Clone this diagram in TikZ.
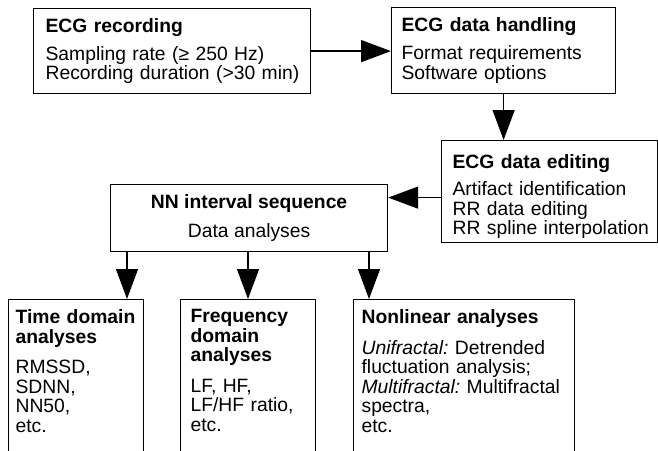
\documentclass[tikz,border=0pt]{standalone}
\usepackage{fontspec}
\setmainfont{Liberation Sans}
\usetikzlibrary{arrows.meta}
\hyphenpenalty=10000
\exhyphenpenalty=10000

\begin{document}
\begin{tikzpicture}[x=1pt,y=-1pt,
  box/.style={draw,line width=1.2pt,anchor=north west,align=left,inner ysep=0pt,
    font=\fontsize{19.3}{19.5}\selectfont},
  arr/.style={line width=1.3pt,-{Triangle[length=30pt,width=22pt]}}]
\useasboundingbox (0,0) rectangle (658,450);
\node[box,text width=253pt,inner xsep=12pt,minimum height=85pt] (rec) at (33,8)
  {\textbf{ECG recording}\\[8.5pt]Sampling rate (≥ 250 Hz)\\Recording~duration~(>30~min)};
\node[box,text width=204pt,inner xsep=10pt,minimum height=86pt] (hand) at (391,7)
  {\textbf{ECG data handling}\\[8.5pt]Format requirements\\Software options};
\node[box,text width=194pt,inner xsep=11pt,minimum height=102pt] (edit) at (441,140)
  {\rule{0pt}{24pt}\textbf{ECG data editing}\\[8pt]Artifact identification\\RR data editing\\RR~spline~interpolation};
\node[box,align=center,minimum width=277pt,minimum height=67pt] (nn) at (110,184)
  {\textbf{NN interval sequence}\\[9.5pt]Data analyses};
\node[box,text width=121pt,inner xsep=7pt,inner ysep=10pt] (time) at (8,299)
  {\textbf{Time~domain}\\\textbf{analyses}\\[11pt]RMSSD,\\SDNN,\\NN50,\\etc.\rule[-40pt]{0pt}{40pt}};
\node[box,text width=115pt,inner xsep=10pt,inner ysep=10pt] (freq) at (180,299)
  {\textbf{Frequency}\\\textbf{domain}\\\textbf{analyses}\\[11pt]LF, HF,\\LF/HF ratio,\\etc.\rule[-40pt]{0pt}{40pt}};
\node[box,text width=205pt,inner xsep=8pt,inner ysep=10pt] (nonlin) at (353,299)
  {\textbf{Nonlinear analyses}\\[11pt]\textit{Unifractal:}~Detrended\\fluctuation analysis;\\
   \textit{Multifractal:}~Multifractal\\spectra,\\etc.\rule[-40pt]{0pt}{40pt}};
\draw[arr] (rec.east) -- (rec.east -| hand.west);
\draw[arr] (hand.south) -- (hand.south |- edit.north);
\draw[arr] ([yshift=-6pt]edit.west) coordinate (ed) -- (ed -| nn.east);
\foreach \x/\n in {127/time,248/freq,369/nonlin}
  \draw[arr] (nn.south -| \x,0) -- (\n.north -| \x,0);
\end{tikzpicture}
\end{document}
